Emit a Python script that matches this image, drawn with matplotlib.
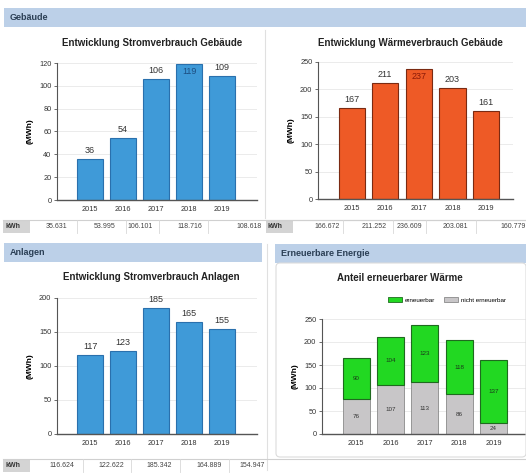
import numpy as np
import matplotlib.pyplot as plt
from matplotlib.patches import Rectangle, FancyBboxPatch, Patch

plt.rcParams['font.family'] = ['Liberation Sans', 'DejaVu Sans']

# ================= Data =================
years = ['2015', '2016', '2017', '2018', '2019']

strom_gebaeude_kwh = [35631, 53995, 106101, 118716, 108618]
waerme_gebaeude_kwh = [166672, 211252, 236609, 203081, 160779]
strom_anlagen_kwh = [116624, 122622, 185342, 164889, 154947]

waerme_erneuerbar = [90, 104, 123, 118, 137]
waerme_nicht_erneuerbar = [76, 107, 113, 86, 24]

W, H = 526, 473
fig = plt.figure(figsize=(W / 100, H / 100), dpi=100)
fig.patch.set_facecolor('white')


def px(x0, y0, x1, y1):
    # pixel box (top-left origin) -> figure fraction rect
    return [x0 / W, 1 - y1 / H, (x1 - x0) / W, (y1 - y0) / H]


def fx(x):
    return x / W


def fy(y):
    return 1 - y / H


# -------------------- Section headers ---------------------
header_col = '#bcd0e8'
for (x0, y0, x1, y1, label) in [(4, 8, 526, 27, 'Gebäude'),
                                (4, 243, 262, 262, 'Anlagen'),
                                (275, 244, 526, 263, 'Erneuerbare Energie')]:
    fig.patches.append(Rectangle((fx(x0), fy(y1)), fx(x1) - fx(x0), fy(y0) - fy(y1),
                                 transform=fig.transFigure, facecolor=header_col,
                                 edgecolor='none', zorder=0))
    fig.text(fx(x0 + 6), fy((y0 + y1) / 2), label, fontsize=6.5, fontweight='bold',
             color='#2b3f55', ha='left', va='center')

# frame of the renewable panel
fig.patches.append(FancyBboxPatch((fx(276), fy(457)), fx(526) - fx(276), fy(263) - fy(457),
                                  boxstyle='round,pad=0,rounding_size=0.008',
                                  transform=fig.transFigure, facecolor='none',
                                  edgecolor='#dcdcdc', linewidth=0.8, zorder=0))

# vertical dividers
fig.add_artist(plt.Line2D([fx(265), fx(265)], [fy(30), fy(218)],
                          transform=fig.transFigure, color='#e0e0e0', linewidth=0.8))
fig.add_artist(plt.Line2D([fx(267), fx(267)], [fy(244), fy(470)],
                          transform=fig.transFigure, color='#e0e0e0', linewidth=0.8))


def style_axes(ax, ymax, step, xlim):
    ax.set_ylim(0, ymax)
    ax.set_xlim(*xlim)
    ax.set_yticks(np.arange(0, ymax + 1, step))
    ax.set_xticks(np.arange(len(years)))
    ax.set_xticklabels(years)
    ax.tick_params(axis='both', labelsize=5.3, colors='#333333', length=2, width=0.5, pad=2)
    ax.tick_params(axis='x', length=0, pad=4)
    for s in ['top', 'right']:
        ax.spines[s].set_visible(False)
    ax.spines['left'].set_color('#555555')
    ax.spines['bottom'].set_color('#555555')
    ax.spines['left'].set_linewidth(0.8)
    ax.spines['bottom'].set_linewidth(1.0)
    ax.yaxis.grid(True, color='#e8e8e8', linewidth=0.6)
    ax.set_axisbelow(True)
    ax.set_ylabel('(MWh)', fontsize=6, fontweight='bold', labelpad=4)
    ax.set_facecolor('none')


def bar_chart(rect, values_kwh, ymax, step, xlim, color, edge, inner_col, title, title_y):
    ax = fig.add_axes(px(*rect))
    vals = np.array(values_kwh) / 1000
    x = np.arange(len(years))
    ax.bar(x, vals, width=0.78, color=color, edgecolor=edge, linewidth=0.8, zorder=2)
    style_axes(ax, ymax, step, xlim)
    off = ymax * 0.05
    for xi, v in zip(x, vals):
        if v / ymax > 0.94:
            ax.text(xi, v - off * 0.4, f'{v:.0f}', ha='center', va='top', fontsize=6.5,
                    color=inner_col, zorder=3)
        else:
            ax.text(xi, v + off * 0.6, f'{v:.0f}', ha='center', va='bottom', fontsize=6.5,
                    color='#333333', zorder=3, clip_on=False)
    fig.text((fx(rect[0]) + fx(rect[2])) / 2 - 0.01, fy(title_y), title, fontsize=7,
             fontweight='bold', ha='center', va='center', color='#222222')
    return ax


def table_row(y0, y1, x_label0, x_label1, cell_rights, values_kwh, sep_xs):
    fig.patches.append(Rectangle((fx(x_label0), fy(y1)), fx(x_label1) - fx(x_label0),
                                 fy(y0) - fy(y1), transform=fig.transFigure,
                                 facecolor='#d4d4d4', edgecolor='none', zorder=0))
    fig.text(fx(x_label0 + 2), fy((y0 + y1) / 2), 'kWh', fontsize=5, fontweight='bold',
             color='#333333', ha='left', va='center')
    fig.add_artist(plt.Line2D([fx(x_label0), fx(526)], [fy(y0), fy(y0)],
                              transform=fig.transFigure, color='#d0d0d0', linewidth=0.8))
    for xr, v in zip(cell_rights, values_kwh):
        fig.text(fx(xr), fy((y0 + y1) / 2), f'{v:,}'.replace(',', '.'), fontsize=5,
                 color='#444444', ha='right', va='center')
    for xs in sep_xs:
        fig.add_artist(plt.Line2D([fx(xs), fx(xs)], [fy(y0), fy(y1)],
                                  transform=fig.transFigure, color='#d8d8d8', linewidth=0.6))


blue, blue_edge = '#3f9ad8', '#2a70ad'
orange, orange_edge = '#ee5a26', '#7a2a12'

# ================= Charts =================
bar_chart((57, 63, 257, 200), strom_gebaeude_kwh, 120, 20, (-1.0, 5.05),
          blue, blue_edge, '#1d4f82', 'Entwicklung Stromverbrauch Gebäude', 43)
bar_chart((318, 62, 513, 199), waerme_gebaeude_kwh, 250, 50, (-1.0, 4.8),
          orange, orange_edge, '#8a1a08', 'Entwicklung Wärmeverbrauch Gebäude', 43)
bar_chart((57, 298, 257, 434), strom_anlagen_kwh, 200, 50, (-1.0, 5.05),
          blue, blue_edge, '#1d4f82', 'Entwicklung Stromverbrauch Anlagen', 277)

# stacked renewable heat chart
ax4 = fig.add_axes(px(322, 319, 526, 434))
x = np.arange(len(years))
green, gray = '#22d822', '#c8c6c8'
ax4.bar(x, waerme_nicht_erneuerbar, width=0.78, color=gray, edgecolor='#8a8a8a',
        linewidth=0.6, zorder=2)
ax4.bar(x, waerme_erneuerbar, bottom=waerme_nicht_erneuerbar, width=0.78, color=green,
        edgecolor='#1f6a1f', linewidth=0.8, zorder=2)
style_axes(ax4, 250, 50, (-1.0, 4.95))
for xi, a, b in zip(x, waerme_nicht_erneuerbar, waerme_erneuerbar):
    ax4.text(xi, a / 2, f'{a}', ha='center', va='center', fontsize=4.5, color='#333333', zorder=3)
    ax4.text(xi, a + b / 2, f'{b}', ha='center', va='center', fontsize=4.5, color='#1a3a1a',
             zorder=3)
fig.text(fx(400), fy(278), 'Anteil erneuerbarer Wärme', fontsize=7, fontweight='bold',
         ha='center', va='center', color='#222222')
ax4.legend(handles=[Patch(facecolor=green, edgecolor='#1f6a1f', linewidth=0.6, label='erneuerbar'),
                    Patch(facecolor=gray, edgecolor='#8a8a8a', linewidth=0.6, label='nicht erneuerbar')],
           loc='center', bbox_to_anchor=(fx(447), fy(300)), bbox_transform=fig.transFigure,
           ncol=2, frameon=False, fontsize=4.5, handlelength=2.2, handleheight=0.9,
           columnspacing=1.5, handletextpad=0.4)

# ================= Tables =================
table_row(220, 233, 3, 30, [67, 115, 153, 202, 262], strom_gebaeude_kwh, [77, 126, 159, 208])
table_row(220, 233, 266, 293, [340, 387, 422, 468, 526], waerme_gebaeude_kwh, [343, 393, 426, 476])
table_row(459, 472, 3, 30, [74, 124, 172, 222, 265], strom_anlagen_kwh, [83, 131, 180, 229])

plt.savefig('out.png', dpi=100)
